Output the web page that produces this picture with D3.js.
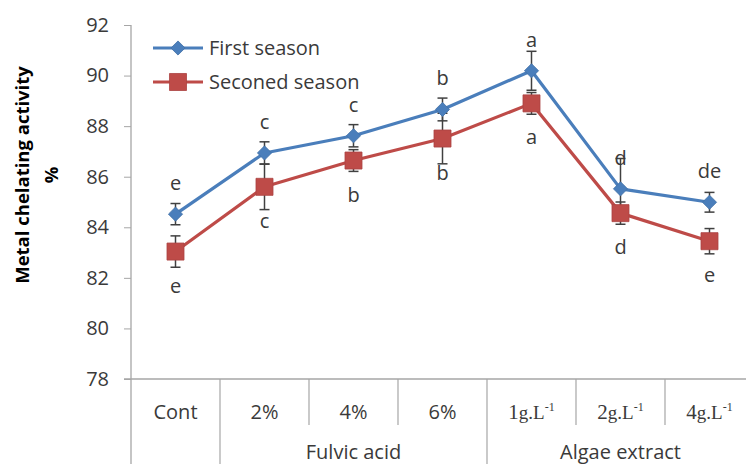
<!DOCTYPE html>
<html>
<head>
<meta charset="utf-8">
<script src="https://cdn.jsdelivr.net/npm/d3@7"></script>
<style>
  body { margin: 0; background: #fff; }
  svg { display: block; }
</style>
</head>
<body>
<svg id="chart" width="746" height="464"></svg>
<script>
// Treatments along the x axis
const categories = ["Cont", "2%", "4%", "6%", "1g", "2g", "4g"];
const categoryLabels = [
  { text: "Cont" }, { text: "2%" }, { text: "4%" }, { text: "6%" },
  { num: "1", unit: "g.L", sup: "-1" },
  { num: "2", unit: "g.L", sup: "-1" },
  { num: "4", unit: "g.L", sup: "-1" }
];
const groups = [
  { name: "", from: "Cont", to: "Cont" },
  { name: "Fulvic acid", from: "2%", to: "6%" },
  { name: "Algae extract", from: "1g", to: "4g" }
];

// Metal chelating activity (%) per season
const firstSeason = [84.52, 86.94, 87.62, 88.66, 90.19, 85.52, 84.99];
const secondSeason = [83.04, 85.60, 86.64, 87.51, 88.90, 84.56, 83.45];
// Error bar half-widths
const firstErr = [0.42, 0.44, 0.44, 0.45, 0.77, 1.2, 0.39];
const secondErr = [0.62, 0.9, 0.43, 1.0, 0.43, 0.44, 0.5];
// Significance letters
const firstLetters = ["e", "c", "c", "b", "a", "d", "de"];
const secondLetters = ["e", "c", "b", "b", "a", "d", "e"];

const yTicks = [78, 80, 82, 84, 86, 88, 90, 92];

const svg = d3.select("#chart");
const W = 746, H = 464;
const plotLeft = 131, plotTop = 25, plotBottom = 379;

const x = d3.scaleBand().domain(categories).range([plotLeft, plotLeft + 7 * 89]);
const y = d3.scaleLinear().domain([78, 92]).range([plotBottom, plotTop]);

const axisColor = "#a6a6a6";
const font = "'Open Sans', sans-serif";
const textColor = "#3a3a3a";
const blue = "#4a7ebb";
const red = "#be4b48";

// Y axis
const yAxis = svg.append("g")
  .attr("transform", `translate(${plotLeft},0)`)
  .call(d3.axisLeft(y).tickValues(yTicks).tickSize(7).tickPadding(15).tickFormat(d3.format("d")));
yAxis.select(".domain").remove();
yAxis.selectAll(".tick line").attr("stroke", axisColor);
yAxis.selectAll(".tick text")
  .attr("font-family", font).attr("font-size", 20).attr("fill", textColor);

// Axis lines
svg.append("line").attr("x1", plotLeft).attr("x2", plotLeft).attr("y1", plotTop).attr("y2", H)
  .attr("stroke", axisColor).attr("stroke-width", 1.3);
svg.append("line").attr("x1", plotLeft - 7).attr("x2", W).attr("y1", plotBottom).attr("y2", plotBottom)
  .attr("stroke", axisColor).attr("stroke-width", 1.3);

// Y axis title
const yTitle = svg.append("text")
  .attr("transform", `translate(29,175) rotate(-90)`)
  .attr("text-anchor", "middle")
  .attr("font-family", font)
  .attr("font-weight", "bold").attr("font-size", 18.5).attr("fill", "#000");
yTitle.append("tspan").attr("x", 0).attr("dy", 0).text("Metal chelating activity");
yTitle.append("tspan").attr("x", 0).attr("dy", 29).text("%");

// Category table below the axis
const innerBottom = 425;
categories.forEach((c, i) => {
  if (i === 0) return;
  const xb = x(c);
  const isGroupEdge = groups.some(g => g.from === c);
  svg.append("line").attr("x1", xb).attr("x2", xb)
    .attr("y1", plotBottom).attr("y2", isGroupEdge ? H : innerBottom)
    .attr("stroke", axisColor).attr("stroke-width", 1.2);
});

categoryLabels.forEach((lab, i) => {
  const cxp = x(categories[i]) + x.bandwidth() / 2;
  const t = svg.append("text")
    .attr("x", cxp).attr("y", 419)
    .attr("text-anchor", "middle")
    .attr("font-size", 20).attr("fill", textColor);
  if (lab.text) {
    t.attr("font-family", font).text(lab.text);
  } else {
    t.attr("font-family", "'Liberation Serif', serif");
    t.append("tspan").attr("font-size", 21).text(lab.num);
    t.append("tspan").attr("font-size", 19).text(lab.unit);
    t.append("tspan").attr("font-size", 12).attr("dy", -8).text(lab.sup);
  }
});

groups.forEach(g => {
  if (!g.name) return;
  const x0 = x(g.from), x1 = x(g.to) + x.bandwidth();
  svg.append("text")
    .attr("x", (x0 + x1) / 2).attr("y", 459)
    .attr("text-anchor", "middle")
    .attr("font-family", font).attr("font-size", 20).attr("fill", textColor)
    .text(g.name);
});

const cx = c => x(c) + x.bandwidth() / 2;
const line = d3.line().x((d, i) => cx(categories[i])).y(d => y(d));

function drawSeries(values, color) {
  svg.append("path").datum(values).attr("d", line)
    .attr("fill", "none").attr("stroke", color).attr("stroke-width", 3.2)
    .attr("stroke-linejoin", "round");
}

function drawErrors(values, errs) {
  const g = svg.append("g").attr("stroke", "#404040").attr("stroke-width", 1.5);
  values.forEach((v, i) => {
    const px = cx(categories[i]);
    const y0 = y(v - errs[i]), y1 = y(v + errs[i]);
    g.append("line").attr("x1", px).attr("x2", px).attr("y1", y0).attr("y2", y1);
    g.append("line").attr("x1", px - 5).attr("x2", px + 5).attr("y1", y0).attr("y2", y0);
    g.append("line").attr("x1", px - 5).attr("x2", px + 5).attr("y1", y1).attr("y2", y1);
  });
}

function drawMarkers(values, color, shape, size) {
  const sym = d3.symbol().type(d3.symbolSquare).size(size);
  svg.append("g").selectAll("path").data(values).join("path")
    .attr("transform", (d, i) => `translate(${cx(categories[i])},${y(d)})` + (shape === "square" ? "" : " rotate(45)"))
    .attr("d", sym())
    .attr("fill", color)
    .attr("stroke", d3.color(color).darker(0.3)).attr("stroke-width", 0.8);
}

drawSeries(secondSeason, red);
drawSeries(firstSeason, blue);
drawErrors(secondSeason, secondErr);
drawErrors(firstSeason, firstErr);
drawMarkers(secondSeason, red, "square", 290);
drawMarkers(firstSeason, blue, "diamond", 100);

// Significance letters
const letterStyle = t => t.attr("text-anchor", "middle").attr("font-family", font)
  .attr("font-size", 20).attr("fill", textColor);
svg.append("g").selectAll("text").data(firstSeason).join("text")
  .call(letterStyle)
  .attr("x", (d, i) => cx(categories[i])).attr("y", d => y(d) - 24)
  .text((d, i) => firstLetters[i]);
svg.append("g").selectAll("text").data(secondSeason).join("text")
  .call(letterStyle)
  .attr("x", (d, i) => cx(categories[i])).attr("y", d => y(d) + 41)
  .text((d, i) => secondLetters[i]);

// Legend
const legend = [
  { name: "First season", color: blue, shape: "diamond", y: 48 },
  { name: "Seconed season", color: red, shape: "square", y: 82 }
];
legend.forEach(l => {
  svg.append("line").attr("x1", 153).attr("x2", 203).attr("y1", l.y).attr("y2", l.y)
    .attr("stroke", l.color).attr("stroke-width", 3.2);
  const s = d3.symbol().type(d3.symbolSquare).size(l.shape === "square" ? 290 : 100);
  svg.append("path").attr("d", s())
    .attr("transform", `translate(178,${l.y})` + (l.shape === "square" ? "" : " rotate(45)"))
    .attr("fill", l.color).attr("stroke", d3.color(l.color).darker(0.3)).attr("stroke-width", 0.8);
  svg.append("text").attr("x", 209).attr("y", l.y + 7)
    .attr("font-family", font).attr("font-size", 20).attr("fill", textColor)
    .text(l.name);
});
</script>
</body>
</html>
